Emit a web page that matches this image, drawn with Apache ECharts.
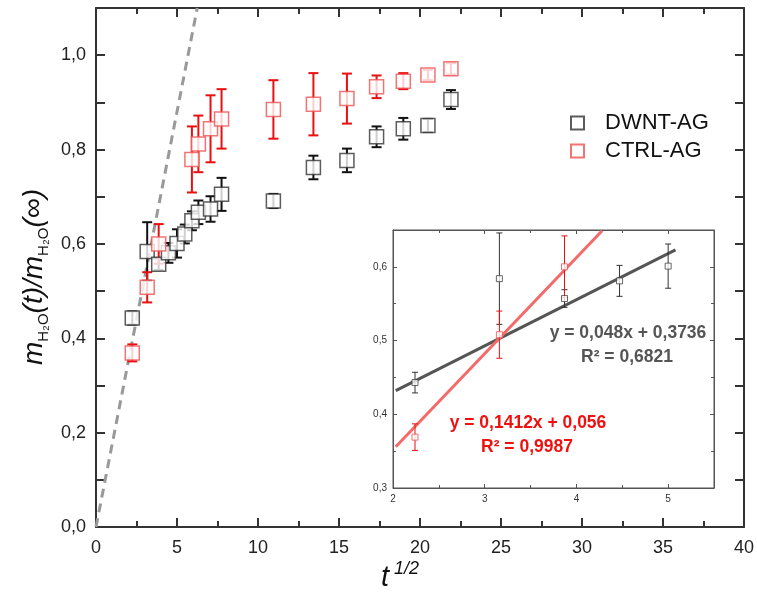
<!DOCTYPE html>
<html>
<head>
<meta charset="utf-8">
<script src="https://cdn.jsdelivr.net/npm/echarts@6/dist/echarts.min.js"></script>
<style>
  html, body { margin: 0; padding: 0; background: #fff; }
  #chart { width: 757px; height: 601px; }
</style>
</head>
<body>
<div id="chart"></div>
<script>
// t^(1/2) positions and fractional uptake values
const dwntX = [2.24, 3.16, 3.87, 4.47, 5.0, 5.48, 5.92, 6.32, 7.07, 7.75, 10.95, 13.42, 15.49, 17.32, 18.97, 20.49, 21.91];
const dwntY = [0.443, 0.584, 0.557, 0.581, 0.601, 0.621, 0.649, 0.667, 0.674, 0.705, 0.691, 0.762, 0.777, 0.827, 0.844, 0.851, 0.906];
const dwntErr = [0.014, 0.062, 0.012, 0.021, 0.030, 0.02, 0.02, 0.025, 0.027, 0.035, 0.015, 0.025, 0.025, 0.022, 0.023, 0.014, 0.02];

const ctrlX = [2.24, 3.16, 3.87, 5.92, 6.32, 7.07, 7.75, 10.95, 13.42, 15.49, 17.32, 18.97, 20.49, 21.91];
const ctrlY = [0.369, 0.508, 0.600, 0.779, 0.812, 0.844, 0.865, 0.885, 0.896, 0.908, 0.933, 0.945, 0.958, 0.971];
const ctrlErr = [0.018, 0.032, 0.042, 0.07, 0.06, 0.071, 0.063, 0.062, 0.066, 0.053, 0.024, 0.017, 0.011, 0.012];

// inset: first points of each series plus the linear fits
const insetDwntCount = 5;
const insetCtrlCount = 3;
const dwntFit = [[2.03, 0.432], [5.08, 0.623]];
const ctrlFit = [[2.03, 0.356], [4.28, 0.649]];
// initial slope guide (dashed)
const guideLine = [[0, 0], [6.25, 1.1]];

const dwntFitText = ['y = 0,048x + 0,3736', 'R² = 0,6821'];
const ctrlFitText = ['y = 0,1412x + 0,056', 'R² = 0,9987'];

const FONT = '"Liberation Sans", Arial, sans-serif';
const comma = (v, d) => v.toFixed(d).replace('.', ',');

function pts(xs, ys) {
  return xs.map((x, i) => [x, ys[i]]);
}
function errPts(xs, ys, es) {
  return xs.map((x, i) => [x, ys[i] - es[i], ys[i] + es[i]]);
}
function errRender(color, cap, lw) {
  return function (params, api) {
    const x = api.value(0);
    const lo = api.coord([x, api.value(1)]);
    const hi = api.coord([x, api.value(2)]);
    const st = { stroke: color, lineWidth: lw };
    return {
      type: 'group',
      children: [
        { type: 'line', shape: { x1: lo[0], y1: lo[1], x2: hi[0], y2: hi[1] }, style: st },
        { type: 'line', shape: { x1: lo[0] - cap, y1: lo[1], x2: lo[0] + cap, y2: lo[1] }, style: st },
        { type: 'line', shape: { x1: hi[0] - cap, y1: hi[1], x2: hi[0] + cap, y2: hi[1] }, style: st },
      ],
    };
  };
}

const chart = echarts.init(document.getElementById('chart'));

const mainAxisLine = { show: true, onZero: false, lineStyle: { color: '#333', width: 2 } };
const mainTick = { show: true, inside: true, length: 9, lineStyle: { color: '#333', width: 2 } };
const mainMinor = { show: true, splitNumber: 2, length: 6, lineStyle: { color: '#333', width: 2 } };
const insetAxisLine = { show: true, onZero: false, lineStyle: { color: '#555', width: 1 } };
const insetTick = { show: true, inside: true, length: 4, lineStyle: { color: '#555', width: 1 } };
const insetMinor = { show: true, splitNumber: 2, length: 3, lineStyle: { color: '#555', width: 1 } };

chart.setOption({
  animation: false,
  backgroundColor: '#fff',
  grid: [
    { left: 96, right: 13, top: 8, bottom: 74 },
    { left: 393, right: 43, top: 230, bottom: 113, show: true, backgroundColor: '#fff', borderColor: '#555', borderWidth: 1, z: 5 },
  ],
  legend: {
    orient: 'vertical',
    left: 565,
    top: 107,
    itemWidth: 13,
    itemHeight: 13,
    itemGap: 6,
    textStyle: { fontFamily: FONT, fontSize: 22, color: '#111', padding: [0, 0, 0, 16] },
    data: ['DWNT-AG', 'CTRL-AG'],
  },
  xAxis: [
    {
      gridIndex: 0, type: 'value', min: 0, max: 40, interval: 5,
      axisLine: mainAxisLine, axisTick: mainTick, minorTick: mainMinor, splitLine: { show: false },
      axisLabel: { fontFamily: FONT, fontSize: 18, color: '#222', margin: 12 },
    },
    {
      gridIndex: 0, type: 'value', position: 'top', min: 0, max: 40, interval: 5,
      axisLine: mainAxisLine, axisTick: mainTick, minorTick: mainMinor, splitLine: { show: false },
      axisLabel: { show: false },
    },
    {
      gridIndex: 1, type: 'value', min: 2, max: 5.5, interval: 1,
      axisLine: insetAxisLine, axisTick: insetTick, minorTick: insetMinor, splitLine: { show: false },
      axisLabel: { fontFamily: FONT, fontSize: 10, color: '#333', margin: 6, showMaxLabel: false },
      z: 6,
    },
    {
      gridIndex: 1, type: 'value', position: 'top', min: 2, max: 5.5, interval: 1,
      axisLine: insetAxisLine, axisTick: insetTick, minorTick: insetMinor, splitLine: { show: false },
      axisLabel: { show: false },
      z: 6,
    },
  ],
  yAxis: [
    {
      gridIndex: 0, type: 'value', min: 0, max: 1.1, interval: 0.1,
      axisLine: mainAxisLine, axisTick: mainTick, splitLine: { show: false },
      axisLabel: {
        fontFamily: FONT, fontSize: 18, color: '#222', margin: 10,
        formatter: (v) => (Math.round(v * 10) % 2 ? '' : comma(v, 1)),
      },
    },
    {
      gridIndex: 0, type: 'value', position: 'right', min: 0, max: 1.1, interval: 0.1,
      axisLine: mainAxisLine, axisTick: mainTick, splitLine: { show: false },
      axisLabel: { show: false },
    },
    {
      gridIndex: 1, type: 'value', min: 0.3, max: 0.65, interval: 0.1,
      axisLine: insetAxisLine, axisTick: insetTick, minorTick: insetMinor, splitLine: { show: false },
      axisLabel: { fontFamily: FONT, fontSize: 10, color: '#333', margin: 6, showMaxLabel: false, formatter: (v) => comma(v, 1) },
      z: 6,
    },
    {
      gridIndex: 1, type: 'value', position: 'right', min: 0.3, max: 0.65, interval: 0.1,
      axisLine: insetAxisLine, axisTick: insetTick, minorTick: insetMinor, splitLine: { show: false },
      axisLabel: { show: false },
      z: 6,
    },
  ],
  series: [
    {
      type: 'line', xAxisIndex: 0, yAxisIndex: 0, data: guideLine, symbol: 'none',
      lineStyle: { color: '#999', width: 3, type: [9, 6] }, z: 1,
    },
    {
      type: 'custom', xAxisIndex: 0, yAxisIndex: 0,
      data: errPts(dwntX, dwntY, dwntErr), renderItem: errRender('#111', 5, 2), z: 2,
    },
    {
      type: 'custom', xAxisIndex: 0, yAxisIndex: 0,
      data: errPts(ctrlX, ctrlY, ctrlErr), renderItem: errRender('#e81010', 5, 2), z: 2,
    },
    {
      name: 'DWNT-AG', type: 'scatter', xAxisIndex: 0, yAxisIndex: 0,
      data: pts(dwntX, dwntY), symbol: 'rect', symbolSize: 14,
      itemStyle: { color: '#fff', borderColor: '#333', borderWidth: 1.5 }, z: 3,
    },
    {
      name: 'CTRL-AG', type: 'scatter', xAxisIndex: 0, yAxisIndex: 0,
      data: pts(ctrlX, ctrlY), symbol: 'rect', symbolSize: 14,
      itemStyle: { color: '#fff', borderColor: '#f05050', borderWidth: 1.5 }, z: 3,
    },
    // inset
    {
      type: 'line', xAxisIndex: 2, yAxisIndex: 2, data: dwntFit, symbol: 'none',
      lineStyle: { color: '#555', width: 3 }, z: 7,
    },
    {
      type: 'line', xAxisIndex: 2, yAxisIndex: 2, data: ctrlFit, symbol: 'none',
      lineStyle: { color: '#f46a6a', width: 3 }, z: 7,
    },
    {
      type: 'custom', xAxisIndex: 2, yAxisIndex: 2,
      data: errPts(dwntX.slice(0, insetDwntCount), dwntY, dwntErr),
      renderItem: errRender('#333', 3, 1), z: 8,
    },
    {
      type: 'custom', xAxisIndex: 2, yAxisIndex: 2,
      data: errPts(ctrlX.slice(0, insetCtrlCount), ctrlY, ctrlErr),
      renderItem: errRender('#e81010', 3, 1), z: 8,
    },
    {
      type: 'scatter', xAxisIndex: 2, yAxisIndex: 2,
      data: pts(dwntX.slice(0, insetDwntCount), dwntY), symbol: 'rect', symbolSize: 6,
      itemStyle: { color: '#fff', borderColor: '#444', borderWidth: 1 }, z: 9,
    },
    {
      type: 'scatter', xAxisIndex: 2, yAxisIndex: 2,
      data: pts(ctrlX.slice(0, insetCtrlCount), ctrlY), symbol: 'rect', symbolSize: 6,
      itemStyle: { color: '#fff', borderColor: '#f05050', borderWidth: 1 }, z: 9,
    },
  ],
  graphic: [
    {
      type: 'text', x: 34, y: 277, rotation: Math.PI / 2, z: 10,
      style: {
        text: '{m|m}{s|H₂O}{n|(t)/}{m|m}{s|H₂O}{n|(∞)}',
        textAlign: 'center', textVerticalAlign: 'middle',
        rich: {
          m: { fontFamily: FONT, fontStyle: 'italic', fontSize: 28, lineHeight: 34, fill: '#111' },
          n: { fontFamily: FONT, fontStyle: 'italic', fontSize: 28, lineHeight: 34, fill: '#111' },
          s: { fontFamily: FONT, fontSize: 15, lineHeight: 34, verticalAlign: 'bottom', fill: '#111' },
        },
      },
    },
    {
      type: 'text', x: 400, y: 578, z: 10,
      style: {
        text: '{t|t}{p| 1/2}',
        textAlign: 'center', textVerticalAlign: 'middle',
        rich: {
          t: { fontFamily: FONT, fontStyle: 'italic', fontSize: 29, lineHeight: 36, fill: '#111' },
          p: { fontFamily: FONT, fontStyle: 'italic', fontSize: 18, lineHeight: 36, verticalAlign: 'top', fill: '#111' },
        },
      },
    },
    {
      type: 'text', x: 628, y: 333, z: 10,
      style: { text: dwntFitText[0], textAlign: 'center', textVerticalAlign: 'middle', fontFamily: FONT, fontWeight: 'bold', fontSize: 17.5, fill: '#555' },
    },
    {
      type: 'text', x: 627, y: 357, z: 10,
      style: { text: dwntFitText[1], textAlign: 'center', textVerticalAlign: 'middle', fontFamily: FONT, fontWeight: 'bold', fontSize: 17.5, fill: '#555' },
    },
    {
      type: 'text', x: 528, y: 423, z: 10,
      style: { text: ctrlFitText[0], textAlign: 'center', textVerticalAlign: 'middle', fontFamily: FONT, fontWeight: 'bold', fontSize: 17.5, fill: '#f01010' },
    },
    {
      type: 'text', x: 527, y: 447, z: 10,
      style: { text: ctrlFitText[1], textAlign: 'center', textVerticalAlign: 'middle', fontFamily: FONT, fontWeight: 'bold', fontSize: 17.5, fill: '#f01010' },
    },
  ],
});
</script>
</body>
</html>
